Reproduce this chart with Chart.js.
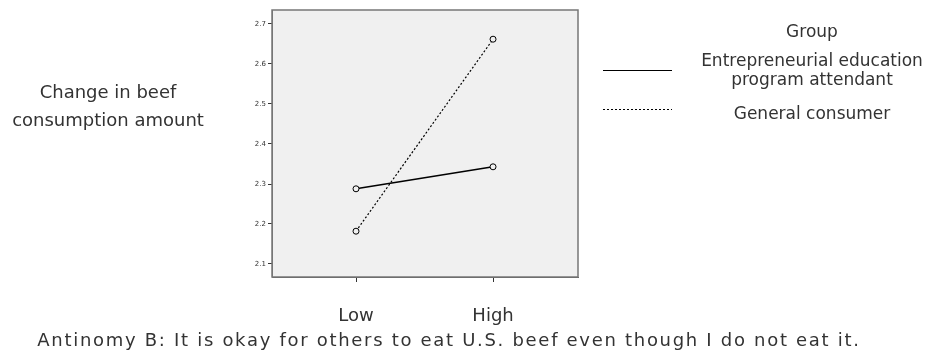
<!DOCTYPE html>
<html>
<head>
<meta charset="utf-8">
<script src="https://cdn.jsdelivr.net/npm/chart.js@4.4.0/dist/chart.umd.min.js"></script>
<style>
  html, body { margin: 0; padding: 0; background: #fff; }
  #wrap { position: relative; width: 932px; height: 353px; }
  .txt { position: absolute; font-family: "DejaVu Sans", sans-serif; color: #333; font-size: 18px; white-space: nowrap; text-align: center; line-height: 28px; }
</style>
</head>
<body>
<div id="wrap">
  <canvas id="grafica" width="932" height="353"></canvas>
  <div class="txt" style="left:8px; top:78px; width:200px;">Change in beef<br>consumption amount</div>
  <div class="txt" style="left:0; top:326px; width:898px; letter-spacing:1.7px;">Antinomy B: It is okay for others to eat U.S. beef even though I do not eat it.</div>
</div>
<script>
// Datos
const categorias = ['Low', 'High'];
const emprendedores = [2.288, 2.343];
const consumidores = [2.182, 2.662];
const tituloLeyenda = 'Group';
const etiquetas = ['Entrepreneurial education|program attendant', 'General consumer'];

// fondo gris y marco del área de trazado
const marco = {
  id: 'marco',
  beforeDraw(chart) {
    const { ctx, chartArea: a } = chart;
    ctx.save();
    ctx.fillStyle = '#f0f0f0';
    ctx.fillRect(a.left, a.top, a.right - a.left, a.bottom - a.top);
    ctx.restore();
  },
  afterDraw(chart) {
    const { ctx, chartArea: a } = chart;
    ctx.save();
    ctx.strokeStyle = '#777';
    ctx.lineWidth = 1.5;
    ctx.strokeRect(a.left, a.top, a.right - a.left, a.bottom - a.top);
    ctx.restore();
  }
};

// leyenda a la derecha al estilo SPSS
const leyenda = {
  id: 'leyenda',
  afterDraw(chart) {
    const ctx = chart.ctx;
    ctx.save();
    ctx.font = '17px "DejaVu Sans", sans-serif';
    ctx.fillStyle = '#333';
    ctx.textAlign = 'center';
    ctx.textBaseline = 'middle';
    ctx.fillText(tituloLeyenda, 812, 33);
    const filas = [{ y: 70, lineas: [62, 81] }, { y: 109, lineas: [115] }];
    chart.data.datasets.forEach((ds, i) => {
      const f = filas[i];
      ctx.strokeStyle = '#000';
      ctx.lineWidth = 1;
      ctx.setLineDash(ds.borderDash || []);
      ctx.beginPath();
      ctx.moveTo(603, f.y + 0.5);
      ctx.lineTo(672, f.y + 0.5);
      ctx.stroke();
      ds.label.split('|').forEach((t, j) => ctx.fillText(t, 812, f.lineas[j]));
    });
    ctx.restore();
  }
};

const ctx = document.getElementById('grafica').getContext('2d');
const myChart = new Chart(ctx, {
  type: 'line',
  data: {
    datasets: [{
      label: etiquetas[0],
      data: categorias.map((c, i) => ({ x: i, y: emprendedores[i] })),
      borderColor: '#000',
      borderWidth: 1.5,
      pointRadius: 3,
      pointBackgroundColor: '#f0f0f0',
      pointBorderColor: '#000',
      pointBorderWidth: 1
    }, {
      label: etiquetas[1],
      data: categorias.map((c, i) => ({ x: i, y: consumidores[i] })),
      borderColor: '#000',
      borderWidth: 1.2,
      borderDash: [2, 2],
      pointRadius: 3,
      pointBackgroundColor: '#f0f0f0',
      pointBorderColor: '#000',
      pointBorderWidth: 1
    }]
  },
  options: {
    responsive: false,
    animation: false,
    layout: { padding: { top: 10, right: 354, left: 0, bottom: 0 } },
    plugins: { legend: { display: false }, tooltip: { enabled: false } },
    scales: {
      x: {
        type: 'linear',
        min: -0.613,
        max: 1.62,
        afterFit: s => { s.height = 76; },
        afterBuildTicks: s => { s.ticks = categorias.map((c, i) => ({ value: i })); },
        ticks: {
          callback: v => categorias[v],
          color: '#333',
          font: { family: 'DejaVu Sans', size: 18 },
          padding: 24,
          maxRotation: 0
        },
        grid: { drawOnChartArea: false, tickLength: 5, color: '#333' },
        border: { color: '#555' }
      },
      y: {
        min: 2.0675,
        max: 2.735,
        afterFit: s => { s.width = 272; },
        afterBuildTicks: s => {
          s.ticks = [2.1, 2.2, 2.3, 2.4, 2.5, 2.6, 2.7].map(v => ({ value: v }));
        },
        ticks: {
          callback: v => v.toFixed(1),
          color: '#333',
          font: { family: 'DejaVu Sans', size: 7 },
          padding: 2
        },
        grid: { drawOnChartArea: false, tickLength: 4, color: '#333' },
        border: { color: '#777' }
      }
    }
  },
  plugins: [marco, leyenda]
});
</script>
</body>
</html>
